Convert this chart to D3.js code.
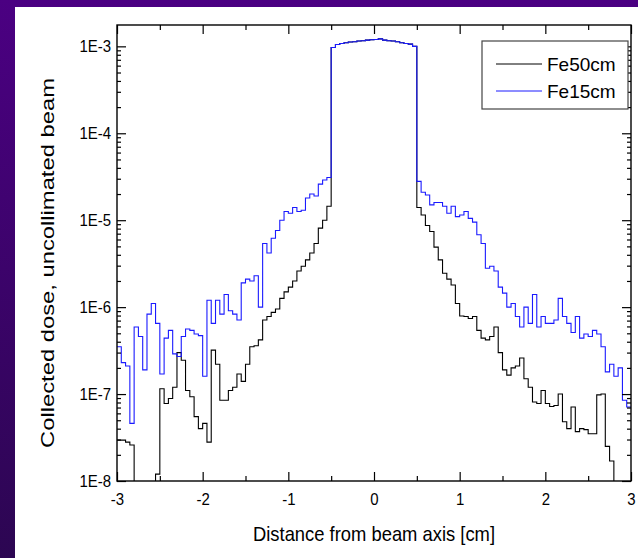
<!DOCTYPE html>
<html>
<head>
<meta charset="utf-8">
<script src="https://cdn.jsdelivr.net/npm/d3@7"></script>
<style>
  html, body { margin: 0; padding: 0; }
  body { width: 638px; height: 558px; overflow: hidden; }
  text { font-family: "Liberation Sans", Arial, Helvetica, sans-serif; fill: #000; }
</style>
</head>
<body>
<script>
// histogram of collected dose, bins of 0.05 cm from -3 to 3
const binStart = -3;
const binWidth = 0.05;

const seriesNames = ["Fe50cm", "Fe15cm"];
const seriesColors = ["#000000", "#1a1aff"];

// -3.00 .. -0.55
const fe50Left = [
  2.95e-8, 2.95e-8, 2.8e-8, 2.6e-8, 1e-9, 1e-9, 1e-9, 1e-9, 1e-9, 1.2e-8,
  1.15e-7, 7.8e-8, 8.9e-8, 1.2e-7, 3.0e-7, 2.45e-7, 1.1e-7, 9.3e-8, 5.5e-8, 4.0e-8,
  4.6e-8, 2.8e-8, 3.2e-7, 2.2e-7, 8.5e-8, 8.5e-8, 1.1e-7, 1.2e-7, 1.7e-7, 1.4e-7,
  2.2e-7, 3.5e-7, 3.6e-7, 4.2e-7, 7.1e-7, 7.8e-7, 8.7e-7, 9.5e-7, 1.26e-6, 1.5e-6,
  1.7e-6, 2.0e-6, 2.6e-6, 2.95e-6, 3.5e-6, 4.2e-6, 5.4e-6, 8.1e-6, 1.0e-5, 1.45e-5
];
const fe15Left = [
  3.5e-7, 2.3e-7, 2.1e-7, 4.6e-8, 5.9e-7, 4.6e-7, 1.9e-7, 8.3e-7, 1.1e-6, 6.5e-7,
  1.7e-7, 4.4e-7, 5.4e-7, 2.9e-7, 2.7e-7, 4.6e-7, 5.6e-7, 5.4e-7, 4.9e-7, 4.7e-7,
  1.6e-7, 1.2e-6, 6.5e-7, 1.2e-6, 8.3e-7, 1.4e-6, 9.1e-7, 8.3e-7, 7.1e-7, 1.9e-6,
  2.1e-6, 2.0e-6, 2.3e-6, 1.0e-6, 5.4e-6, 4.2e-6, 6.2e-6, 7.6e-6, 1.0e-5, 1.26e-5,
  1.2e-5, 1.4e-5, 1.26e-5, 1.3e-5, 1.8e-5, 2.0e-5, 1.9e-5, 2.6e-5, 2.9e-5, 3.1e-5
];
// -0.50 .. 0.45, same core for both absorbers
const coreDose = [
  0.97e-3, 1.05e-3, 1.08e-3, 1.10e-3, 1.12e-3, 1.13e-3, 1.15e-3, 1.16e-3, 1.18e-3, 1.19e-3,
  1.20e-3, 1.22e-3, 1.18e-3, 1.16e-3, 1.15e-3, 1.13e-3, 1.10e-3, 1.08e-3, 1.06e-3, 1.0e-3
];
// 0.50 .. 2.95
const fe50Right = [
  1.4e-5, 1.15e-5, 8.7e-6, 7.4e-6, 4.9e-6, 3.5e-6, 2.45e-6, 2.1e-6, 1.8e-6, 1.1e-6,
  7.9e-7, 7.8e-7, 7.4e-7, 7.8e-7, 5.4e-7, 4.4e-7, 4.2e-7, 4.6e-7, 5.9e-7, 3.0e-7,
  1.9e-7, 1.65e-7, 2.0e-7, 2.1e-7, 2.6e-7, 1.5e-7, 1.2e-7, 8.1e-8, 7.8e-8, 1.1e-7,
  7.8e-8, 7.2e-8, 7.4e-8, 1.0e-7, 4.8e-8, 4.0e-8, 7.1e-8, 3.7e-8, 4.0e-8, 3.9e-8,
  3.5e-8, 3.5e-8, 9.8e-8, 1.0e-7, 2.5e-8, 1.7e-8, 1e-9, 1e-9, 1e-9, 1e-9
];
const fe15Right = [
  2.8e-5, 2.1e-5, 1.95e-5, 1.5e-5, 1.6e-5, 1.6e-5, 1.45e-5, 1.2e-5, 1.45e-5, 1.1e-5,
  1.15e-5, 1.26e-5, 1.05e-5, 9.5e-6, 6.8e-6, 5.4e-6, 2.8e-6, 2.95e-6, 2.6e-6, 1.7e-6,
  1.45e-6, 1.0e-6, 1.1e-6, 7.8e-7, 5.9e-7, 1.0e-6, 6.5e-7, 1.4e-6, 5.9e-7, 7.8e-7,
  6.5e-7, 6.5e-7, 7.1e-7, 1.26e-6, 7.8e-7, 6.5e-7, 5.1e-7, 7.8e-7, 4.4e-7, 4.9e-7,
  4.6e-7, 5.4e-7, 4.9e-7, 3.5e-7, 1.8e-7, 2.2e-7, 1.6e-7, 2.0e-7, 8.5e-8, 7.1e-8
];

const xTicks = [-3, -2, -1, 0, 1, 2, 3];
const xMinorTicks = [-2.5, -1.5, -0.5, 0.5, 1.5, 2.5];
const yTicks = [1e-8, 1e-7, 1e-6, 1e-5, 1e-4, 1e-3];
const yTickLabels = ["1E-8", "1E-7", "1E-6", "1E-5", "1E-4", "1E-3"];

const W = 638, H = 558;
const plot = { left: 117, right: 631, top: 25, bottom: 481 };

const svg = d3.select("body").append("svg")
  .attr("width", W)
  .attr("height", H);

// purple slide background with white panel
const grad = svg.append("defs").append("linearGradient")
  .attr("id", "bg").attr("x1", 0).attr("y1", 0).attr("x2", 0).attr("y2", 1);
grad.append("stop").attr("offset", "0%").attr("stop-color", "#4b0082");
grad.append("stop").attr("offset", "100%").attr("stop-color", "#2c0652");
svg.append("rect").attr("width", W).attr("height", H).attr("fill", "url(#bg)");
svg.append("rect").attr("x", 15).attr("y", 7).attr("width", W - 15).attr("height", H - 7).attr("fill", "#fff");

const x = d3.scaleLinear().domain([-3, 3]).range([plot.left, plot.right]);
const y = d3.scaleLog().domain([1e-8, 1.76e-3]).range([plot.bottom, plot.top]);

svg.append("defs").append("clipPath").attr("id", "clip")
  .append("rect")
  .attr("x", plot.left).attr("y", plot.top)
  .attr("width", plot.right - plot.left).attr("height", plot.bottom - plot.top);

const series = [
  [...fe50Left, ...coreDose, ...fe50Right],
  [...fe15Left, ...coreDose, ...fe15Right]
];

const line = d3.line()
  .x(d => x(d[0]))
  .y(d => y(d[1]))
  .curve(d3.curveStepAfter);

series.forEach((vals, i) => {
  const pts = vals.map((v, k) => [+(binStart + k * binWidth).toFixed(2), v]);
  pts.push([3, vals[vals.length - 1]]);
  svg.append("path")
    .attr("clip-path", "url(#clip)")
    .attr("d", line(pts))
    .attr("fill", "none")
    .attr("stroke", seriesColors[i])
    .attr("stroke-width", 1.1);
});

// the source picture is a bit stretched vertically, so text is drawn tall and narrow
function squeeze(sel, factor) {
  sel.each(function() {
    const n = this.getComputedTextLength();
    this.setAttribute("textLength", n * factor);
    this.setAttribute("lengthAdjust", "spacingAndGlyphs");
  });
}

// minor log ticks 2..9 per decade
const yMinor = [];
yTicks.slice(0, -1).forEach(t => { for (let m = 2; m <= 9; m++) yMinor.push(t * m); });

function styleAxis(g) {
  g.selectAll("path.domain").remove();
  g.selectAll("line").attr("stroke", "#000").attr("stroke-width", 1.2);
  g.selectAll("text").style("font-size", "17px").call(squeeze, 0.88);
}

// bottom
svg.append("g").attr("transform", `translate(0,${plot.bottom})`)
  .call(d3.axisBottom(x).tickValues(xTicks).tickSize(-9).tickPadding(12).tickFormat(d => String(d)))
  .call(styleAxis);
svg.append("g").attr("transform", `translate(0,${plot.bottom})`)
  .call(d3.axisBottom(x).tickValues(xMinorTicks).tickSize(-5).tickFormat(""))
  .call(styleAxis);
// top
svg.append("g").attr("transform", `translate(0,${plot.top})`)
  .call(d3.axisTop(x).tickValues(xTicks).tickSize(-9).tickFormat(""))
  .call(styleAxis);
svg.append("g").attr("transform", `translate(0,${plot.top})`)
  .call(d3.axisTop(x).tickValues(xMinorTicks).tickSize(-5).tickFormat(""))
  .call(styleAxis);
// left
svg.append("g").attr("transform", `translate(${plot.left},0)`)
  .call(d3.axisLeft(y).tickValues(yTicks).tickSize(-9).tickPadding(6).tickFormat((d, i) => yTickLabels[i]))
  .call(styleAxis);
svg.append("g").attr("transform", `translate(${plot.left},0)`)
  .call(d3.axisLeft(y).tickValues(yMinor).tickSize(-4).tickFormat(""))
  .call(styleAxis);
// right
svg.append("g").attr("transform", `translate(${plot.right},0)`)
  .call(d3.axisRight(y).tickValues(yTicks).tickSize(-9).tickFormat(""))
  .call(styleAxis);
svg.append("g").attr("transform", `translate(${plot.right},0)`)
  .call(d3.axisRight(y).tickValues(yMinor).tickSize(-4).tickFormat(""))
  .call(styleAxis);

// frame
svg.append("rect")
  .attr("x", plot.left).attr("y", plot.top)
  .attr("width", plot.right - plot.left).attr("height", plot.bottom - plot.top)
  .attr("fill", "none").attr("stroke", "#000").attr("stroke-width", 1.4);

// axis titles
svg.append("text")
  .attr("x", x(0)).attr("y", 541)
  .attr("text-anchor", "middle")
  .style("font-size", "21px")
  .attr("textLength", 242)
  .attr("lengthAdjust", "spacingAndGlyphs")
  .text("Distance from beam axis [cm]");

svg.append("text")
  .attr("transform", "translate(54,263) rotate(-90)")
  .attr("text-anchor", "middle")
  .style("font-size", "19px")
  .attr("textLength", 370)
  .attr("lengthAdjust", "spacingAndGlyphs")
  .text("Collected dose, uncollimated beam");

// legend
const legend = svg.append("g");
legend.append("rect")
  .attr("x", 482).attr("y", 41).attr("width", 146).attr("height", 68)
  .attr("fill", "#fff").attr("stroke", "#444").attr("stroke-width", 1.2);
seriesNames.forEach((name, i) => {
  const ly = 64 + i * 27;
  legend.append("line")
    .attr("x1", 496).attr("x2", 542).attr("y1", ly).attr("y2", ly)
    .attr("stroke", seriesColors[i]).attr("stroke-width", 1);
  legend.append("text")
    .attr("x", 547).attr("y", ly).attr("dy", "0.36em")
    .style("font-size", "19px")
    .text(name);
});
</script>
</body>
</html>
